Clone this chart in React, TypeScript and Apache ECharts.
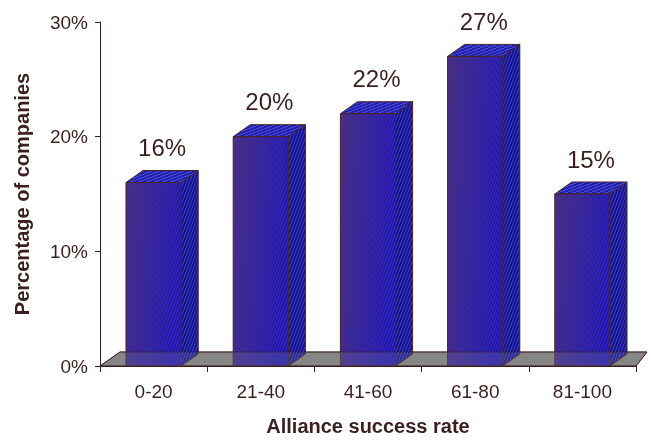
import React, { useEffect, useRef } from 'react';
import * as echarts from 'echarts';

const categories = ['0-20', '21-40', '41-60', '61-80', '81-100'];
const values = [16, 20, 22, 27, 15];
const yMin = 0;
const yMax = 30;
const yInterval = 10;

const BROWN = '#3b1f1f';
const FONT = '"Liberation Sans", Arial, sans-serif';

function hatch(color: string, w: number, h: number) {
  const svg =
    `<svg xmlns="http://www.w3.org/2000/svg" width="${w}" height="${h}">` +
    `<path d="M0,${h} L${w},0 M${-w},${h} L0,0 M${w},${h} L${2 * w},0" stroke="${color}" stroke-width="1" fill="none"/></svg>`;
  return {
    image: 'data:image/svg+xml;charset=utf-8,' + encodeURIComponent(svg),
    repeat: 'repeat',
    imageWidth: w,
    imageHeight: h,
  };
}

export default function App() {
  const ref = useRef<HTMLDivElement>(null);
  useEffect(() => {
    document.body.style.margin = '0';
    const chart = echarts.init(ref.current!, null, { renderer: 'svg' });
    const DX = 17;
    const DY = -12;
    const frontHatch = hatch('rgba(110,55,75,0.6)', 3, 8);
    const sideHatch = hatch('rgba(80,80,230,0.7)', 3, 8);
    const topHatch = hatch('rgba(110,110,240,0.65)', 8, 3);
    const edge = { stroke: '#4a2424', lineWidth: 1 };

    const floorPoints = (cs: any, yb: number) => [
      [cs.x, yb],
      [cs.x + cs.width, yb],
      [cs.x + cs.width + 11, yb - 14],
      [cs.x + 20, yb - 14],
    ];

    const option: any = {
      animation: false,
      grid: { left: 100, right: 15, top: 22, bottom: 71 },
      xAxis: {
        type: 'category',
        data: categories,
        boundaryGap: true,
        axisLine: { show: true, lineStyle: { color: BROWN, width: 1 } },
        axisTick: { show: true, length: 6, lineStyle: { color: BROWN } },
        axisLabel: { color: BROWN, fontSize: 19, fontFamily: FONT, margin: 16 },
        name: 'Alliance success rate',
        nameLocation: 'middle',
        nameGap: 50,
        nameTextStyle: { color: BROWN, fontSize: 20, fontWeight: 'bold', fontFamily: FONT },
      },
      yAxis: {
        type: 'value',
        min: yMin,
        max: yMax,
        interval: yInterval,
        axisLine: { show: true, lineStyle: { color: BROWN, width: 1 } },
        axisTick: { show: true, length: 5, inside: false, lineStyle: { color: BROWN } },
        splitLine: { show: false },
        axisLabel: { color: BROWN, fontSize: 19, fontFamily: FONT, margin: 12, formatter: '{value}%' },
        name: 'Percentage of companies',
        nameLocation: 'middle',
        nameGap: 68,
        nameTextStyle: { color: BROWN, fontSize: 20, fontWeight: 'bold', fontFamily: FONT },
      },
      series: [
        {
          type: 'custom',
          z: 1,
          silent: true,
          data: [[0, 0]],
          renderItem: (params: any, api: any) => {
            const yb = api.coord([0, 0])[1];
            return {
              type: 'polygon',
              shape: { points: floorPoints(params.coordSys, yb) },
              style: { fill: '#848484', stroke: BROWN, lineWidth: 1 },
            };
          },
        },
        {
          type: 'custom',
          z: 2,
          data: values.map((v, i) => [i, v]),
          encode: { x: 0, y: 1 },
          renderItem: (params: any, api: any) => {
            const idx = api.value(0);
            const v = api.value(1);
            const top = api.coord([idx, v]);
            const base = api.coord([idx, 0]);
            const bw = api.size([1, 0])[0] * 0.515;
            const x0 = top[0] - bw / 2;
            const x1 = top[0] + bw / 2;
            const yt = top[1];
            const yb = base[1];
            const front = [
              [x0, yt],
              [x1, yt],
              [x1, yb],
              [x0, yb],
            ];
            const side = [
              [x1, yt],
              [x1 + DX, yt + DY],
              [x1 + DX, yb + DY],
              [x1, yb],
            ];
            const topF = [
              [x0, yt],
              [x0 + DX, yt + DY],
              [x1 + DX, yt + DY],
              [x1, yt],
            ];
            return {
              type: 'group',
              children: [
                { type: 'polygon', shape: { points: side }, style: { fill: '#12128a' } },
                { type: 'polygon', shape: { points: side }, style: { fill: sideHatch, ...edge } },
                { type: 'polygon', shape: { points: topF }, style: { fill: '#1f1fb0' } },
                { type: 'polygon', shape: { points: topF }, style: { fill: topHatch, ...edge } },
                {
                  type: 'polygon',
                  shape: { points: front },
                  style: {
                    fill: new echarts.graphic.LinearGradient(0, 0, 1, 0.25, [
                      { offset: 0, color: '#3d2c92' },
                      { offset: 0.5, color: '#2a22b0' },
                      { offset: 1, color: '#1616cc' },
                    ]),
                  },
                },
                { type: 'polygon', shape: { points: front }, style: { fill: frontHatch, ...edge } },
                {
                  type: 'text',
                  x: top[0] + DX / 2,
                  y: yt - 35,
                  style: {
                    text: v + '%',
                    fill: BROWN,
                    fontSize: 24,
                    fontFamily: FONT,
                    align: 'center',
                    verticalAlign: 'middle',
                  },
                },
              ],
            };
          },
        },
        {
          type: 'custom',
          z: 3,
          silent: true,
          data: [[0, 0]],
          renderItem: (params: any, api: any) => {
            const yb = api.coord([0, 0])[1];
            return {
              type: 'polygon',
              shape: { points: floorPoints(params.coordSys, yb) },
              style: { fill: 'rgba(140,140,140,0.22)', stroke: 'rgba(59,31,31,0.55)', lineWidth: 1 },
            };
          },
        },
      ],
    };
    chart.setOption(option);
    return () => chart.dispose();
  }, []);
  return <div ref={ref} style={{ position: 'fixed', left: 0, top: 0, width: 651, height: 441 }} />;
}
